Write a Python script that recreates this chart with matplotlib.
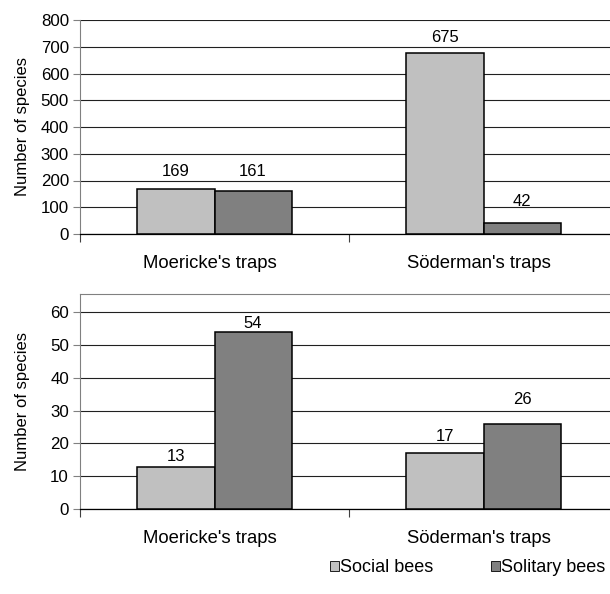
import matplotlib.pyplot as plt
import matplotlib.transforms as mtransforms
from matplotlib.patches import Patch

plt.rcParams['font.family'] = ['Liberation Sans', 'DejaVu Sans']

traps = ["Moericke's traps", "Söderman's traps"]
series = ['Social bees', 'Solitary bees']
colors = ['#c0c0c0', '#808080']

# number of species, top and bottom panels
top_social = [169, 675]
top_solitary = [161, 42]
bottom_social = [13, 17]
bottom_solitary = [54, 26]

# gap (points) between bar top and its value label
top_pads = ([6.8, 6.1], [8.3, 9.7])
bottom_pads = ([1.8, 6.8], [0.4, 12.2])

BAR_W = 0.287
GRID_C = '#202020'
AXIS_C = '#808080'

fig = plt.figure(figsize=(6.10, 5.94), dpi=100)
ax_top = fig.add_axes([80 / 610, 360 / 594, 538 / 610, 214 / 594])
ax_bot = fig.add_axes([80 / 610, 84.7 / 594, 538 / 610, 215.3 / 594])


def draw_panel(ax, social, solitary, pads, ylim, yticks, top_border):
    x = range(len(traps))
    for vals, col, off, pad in [(social, colors[0], -BAR_W, pads[0]),
                                (solitary, colors[1], 0, pads[1])]:
        bars = ax.bar([i + off for i in x], vals, width=BAR_W, align='edge',
                      color=col, edgecolor='black', linewidth=1.1, zorder=3)
        for b, v, p in zip(bars, vals, pad):
            ax.annotate(str(v), (b.get_x() + b.get_width() / 2, v),
                        xytext=(0, p), textcoords='offset points',
                        ha='center', va='bottom', fontsize=12)

    ax.set_xlim(-0.5, 1.5)
    ax.set_ylim(*ylim)
    ax.set_yticks(yticks)
    ax.yaxis.grid(True, color=GRID_C, linewidth=0.8, zorder=0)
    ax.set_axisbelow(True)

    # separator ticks between categories, names drawn as text under each group
    ax.set_xticks([-0.5, 0.5, 1.5])
    ax.set_xticklabels([])
    shift = mtransforms.ScaledTranslation(-5 / 100, -21 / 100, fig.dpi_scale_trans)
    for i, name in zip(x, traps):
        ax.text(i, 0, name, transform=ax.get_xaxis_transform() + shift,
                ha='center', va='top', fontsize=13.3)
    ax.tick_params(axis='x', which='major', length=6, color='#404040', width=0.8)
    ax.tick_params(axis='y', length=5, color=AXIS_C, width=0.8, labelsize=12.2, pad=3)

    ax.spines['right'].set_visible(False)
    ax.spines['left'].set_color(AXIS_C)
    ax.spines['bottom'].set_color('black')
    ax.spines['bottom'].set_linewidth(0.9)
    if top_border:
        ax.spines['top'].set_color(AXIS_C)
    else:
        ax.spines['top'].set_visible(False)

    ax.set_ylabel('Number of species', fontsize=12)
    ax.yaxis.set_label_coords(-50 / 538, 0.5)


draw_panel(ax_top, top_social, top_solitary, top_pads, (0, 800), range(0, 801, 100), False)
draw_panel(ax_bot, bottom_social, bottom_solitary, bottom_pads, (0, 65.4), range(0, 61, 10), True)

handles = [Patch(facecolor=c, edgecolor='black', linewidth=0.6) for c in colors]
fig.legend(handles, series, loc='center', bbox_to_anchor=(468 / 610, 26 / 594),
           ncol=2, frameon=False, fontsize=13, handlelength=0.45, handleheight=0.45,
           handletextpad=0.1, columnspacing=3.2)

fig.savefig('out.png', dpi=100)
